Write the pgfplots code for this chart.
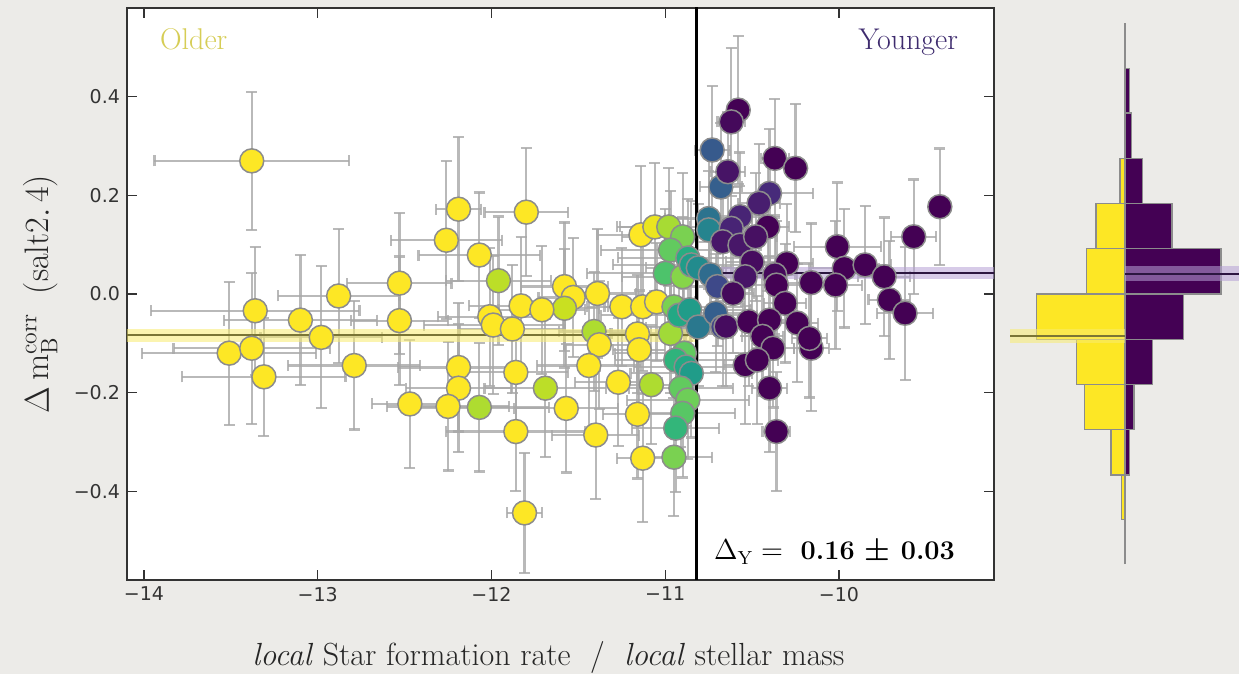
\documentclass[border=0pt]{standalone}
\usepackage{fontspec}
\usepackage{pgfplots}
\pgfplotsset{compat=1.18}
\usepackage{pgfplotstable}
\newfontfamily\tickfont{DejaVu Sans}
\definecolor{bgpaper}{HTML}{ECEBE8}
\definecolor{olderc}{HTML}{D6CD55}
\definecolor{youngerc}{HTML}{3E2B6E}
\definecolor{vyellow}{HTML}{FDE725}
\definecolor{vpurple}{HTML}{440154}
\definecolor{ybandc}{HTML}{F8EC70}
\definecolor{ylinec}{HTML}{7A7535}
\definecolor{pbandc}{HTML}{B7A2D6}
\definecolor{plinec}{HTML}{2C1640}
\definecolor{ebarc}{HTML}{A8A8A8}

\pgfplotstableread{
x y ex ey c
-13.38 0.270 0.56 0.14 1
-13.36 -0.034 0.60 0.13 1
-13.51 -0.120 0.50 0.145 1
-13.38 -0.110 0.45 0.153 1
-13.31 -0.168 0.47 0.12 1
-13.10 -0.053 0.44 0.132 1
-12.98 -0.088 0.35 0.144 1
-12.88 -0.004 0.35 0.136 1
-12.79 -0.145 0.38 0.13 1
-12.53 0.022 0.30 0.143 1
-12.53 -0.054 0.28 0.13 1
-12.47 -0.223 0.22 0.13 1
-12.19 0.172 0.13 0.146 1
-11.80 0.166 0.24 0.13 1
-12.26 0.109 0.32 0.16 1
-12.07 0.079 0.35 0.127 1
-11.96 0.027 0.30 0.13 0.9
-11.58 0.015 0.25 0.13 1
-11.53 -0.007 0.20 0.12 1
-11.58 -0.029 0.20 0.12 0.92
-11.39 0.001 0.22 0.13 1
-11.83 -0.024 0.30 0.14 1
-11.71 -0.032 0.25 0.13 1
-12.01 -0.046 0.30 0.14 1
-11.99 -0.063 0.40 0.14 1
-11.88 -0.071 0.30 0.13 1
-11.41 -0.076 0.20 0.12 0.88
-11.38 -0.103 0.20 0.13 1
-11.25 -0.026 0.20 0.12 1
-11.13 -0.026 0.20 0.13 1
-11.05 -0.016 0.22 0.12 1
-11.16 -0.081 0.15 0.12 1
-11.15 -0.113 0.15 0.12 1
-11.14 0.120 0.25 0.14 1
-11.06 0.136 0.20 0.13 0.97
-11.13 -0.333 0.15 0.13 1
-11.16 -0.244 0.20 0.13 1
-11.08 -0.184 0.15 0.12 0.88
-11.27 -0.179 0.25 0.13 1
-11.44 -0.145 0.30 0.14 1
-11.40 -0.286 0.25 0.13 1
-11.57 -0.232 0.30 0.13 1
-11.69 -0.191 0.35 0.14 0.9
-11.86 -0.159 0.30 0.13 1
-11.86 -0.279 0.40 0.12 1
-12.19 -0.149 0.35 0.13 1
-12.19 -0.191 0.30 0.13 1
-12.25 -0.228 0.35 0.13 1
-12.07 -0.230 0.40 0.13 0.88
-11.81 -0.444 0.10 0.122 1
-10.98 0.136 0.30 0.12 0.87
-10.90 0.116 0.35 0.13 0.80
-10.97 0.089 0.40 0.12 0.76
-11.00 0.042 0.45 0.13 0.72
-10.90 0.035 0.35 0.12 0.82
-10.87 0.073 0.40 0.12 0.62
-10.85 0.059 0.45 0.13 0.55
-10.97 -0.080 0.35 0.12 0.86
-10.95 -0.026 0.40 0.12 0.80
-10.92 -0.043 0.45 0.13 0.60
-10.86 -0.032 0.35 0.12 0.55
-10.89 -0.120 0.40 0.13 0.76
-10.94 -0.134 0.35 0.12 0.65
-10.88 -0.148 0.30 0.12 0.60
-10.85 -0.161 0.35 0.13 0.55
-10.91 -0.191 0.30 0.12 0.76
-10.87 -0.215 0.35 0.12 0.78
-10.90 -0.242 0.30 0.13 0.74
-10.94 -0.272 0.25 0.13 0.66
-10.95 -0.331 0.22 0.12 0.80
-10.81 0.053 0.30 0.13 0.48
-10.75 0.153 0.25 0.13 0.38
-10.75 0.130 0.30 0.12 0.45
-10.74 0.039 0.30 0.12 0.35
-10.81 -0.067 0.30 0.12 0.40
-10.71 -0.039 0.20 0.12 0.30
-10.67 -0.067 0.20 0.12 0.20
-10.73 0.292 0.10 0.13 0.28
-10.68 0.217 0.12 0.13 0.30
-10.70 0.015 0.20 0.12 0.22
-10.58 0.373 0.06 0.15 0.0
-10.62 0.349 0.08 0.15 0.02
-10.37 0.275 0.08 0.12 0.0
-10.25 0.255 0.06 0.13 0.0
-10.64 0.248 0.10 0.12 0.05
-10.40 0.204 0.25 0.13 0.12
-10.46 0.184 0.12 0.12 0.08
-10.57 0.157 0.15 0.13 0.10
-10.62 0.133 0.15 0.12 0.10
-10.41 0.136 0.12 0.13 0.0
-10.67 0.106 0.15 0.12 0.06
-10.57 0.099 0.12 0.12 0.06
-10.48 0.116 0.12 0.13 0.04
-10.50 0.065 0.15 0.12 0.03
-10.54 0.035 0.15 0.12 0.05
-10.30 0.062 0.15 0.12 0.0
-10.37 0.039 0.12 0.12 0.02
-10.61 0.001 0.12 0.12 0.02
-10.36 0.018 0.15 0.13 0.0
-10.31 -0.019 0.12 0.12 0.0
-10.16 0.023 0.15 0.12 0.0
-10.01 0.096 0.25 0.13 0.0
-9.97 0.052 0.20 0.12 0.0
-10.02 0.018 0.15 0.13 0.0
-9.85 0.059 0.15 0.12 0.0
-9.74 0.035 0.15 0.12 0.0
-9.71 -0.012 0.12 0.12 0.0
-9.62 -0.039 0.16 0.135 0.0
-9.57 0.116 0.13 0.116 0.0
-9.42 0.177 0.05 0.118 0.0
-10.65 -0.066 0.12 0.12 0.03
-10.52 -0.056 0.12 0.13 0.0
-10.40 -0.053 0.15 0.13 0.0
-10.24 -0.059 0.12 0.12 0.0
-10.44 -0.086 0.12 0.12 0.0
-10.38 -0.110 0.12 0.12 0.0
-10.16 -0.110 0.10 0.128 0.0
-10.17 -0.090 0.10 0.12 0.0
-10.54 -0.144 0.12 0.12 0.0
-10.47 -0.134 0.12 0.13 0.0
-10.40 -0.191 0.10 0.13 0.0
-10.36 -0.279 0.08 0.12 0.0
}\sndata

\begin{document}
\begin{tikzpicture}
\path[use as bounding box] (0,0) rectangle (619.5pt,337pt);
\fill[bgpaper] (0,0) rectangle (619.5pt,337pt);
\begin{axis}[
  at={(63.5pt,47pt)}, anchor=south west,
  scale only axis, width=433.5pt, height=286pt,
  xmin=-14.098, xmax=-9.108, ymin=-0.58, ymax=0.58,
  axis background/.style={fill=white},
  axis line style={black!80, line width=1pt},
  tick align=inside, tick pos=both, xticklabel pos=lower, yticklabel pos=left,
  major tick length=5pt,
  tick style={black!80, line width=0.7pt},
  xtick={-14,-13,-12,-11,-10}, xticklabels={−14,−13,−12,−11,−10},
  ytick={-0.4,-0.2,0,0.2,0.4}, yticklabels={−0.4,−0.2,0.0,0.2,0.4},
  ticklabel style={font=\tickfont\fontsize{9.5}{11}\selectfont, text=black!80},
  colormap/viridis, point meta min=0, point meta max=1,
  xlabel={\textit{local} Star formation rate~~/~~\textit{local} stellar mass},
  xlabel style={at={(axis description cs:0.486,-0.136)}, anchor=center, font=\fontsize{16}{19}\selectfont, text=black!85},
  ylabel={$\Delta\,\mathrm{m}_{\mathrm{B}}^{\mathrm{corr}}\;\;(\mathrm{salt2.\,4})$},
  ylabel style={at={(axis description cs:-0.10,0.5)}, anchor=center, font=\fontsize{17}{20}\selectfont, text=black!85},
]
\addplot[only marks, mark=*, mark size=0.5pt, mark options={draw=ebarc, fill=ebarc}, forget plot,
  error bars/.cd, x dir=both, x explicit, y dir=both, y explicit,
  error bar style={draw=ebarc, draw opacity=0.8, line width=1.1pt},
  error mark=-,
  error mark options={rotate=90, draw=ebarc, draw opacity=0.8, line width=1.1pt, mark size=2.75pt}]
  table[x=x, y=y, x error=ex, y error=ey] {\sndata};
% mean of older
\addplot[draw=none, fill=ybandc, fill opacity=0.55, forget plot] coordinates {(-14.2,-0.097) (-10.82,-0.097) (-10.82,-0.070) (-14.2,-0.070)} -- cycle;
\addplot[ylinec, line width=1pt, forget plot] coordinates {(-14.2,-0.084) (-10.82,-0.084)};
% mean of younger
\addplot[draw=none, fill=pbandc, fill opacity=0.55, forget plot] coordinates {(-10.82,0.030) (-9.0,0.030) (-9.0,0.055) (-10.82,0.055)} -- cycle;
\addplot[plinec, line width=1pt, forget plot] coordinates {(-10.82,0.042) (-9.0,0.042)};
% split
\addplot[black, line width=1.5pt, forget plot] coordinates {(-10.82,-0.6) (-10.82,0.6)};
\addplot[scatter, only marks, mark=*, mark size=6pt, scatter src=explicit,
  mark options={line width=0.75pt},
  scatter/use mapped color={draw=black!45, fill=mapped color}]
  table[x=x, y=y, meta=c] {\sndata};
\node[anchor=base west, text=olderc, font=\fontsize{15}{18}\selectfont] at (axis description cs:0.030,0.927) {Older};
\node[anchor=base east, text=youngerc, font=\fontsize{15}{18}\selectfont] at (axis description cs:0.9666,0.927) {Younger};
\node[anchor=base east, font=\fontsize{13.5}{16}\selectfont] at (axis description cs:0.963,0.035) {$\Delta_{\mathrm{Y}} =$\ \ \textbf{0.16 {\boldmath$\pm$} 0.03}};
\end{axis}
\begin{axis}[
  at={(500pt,47pt)}, anchor=south west,
  scale only axis, width=119.5pt, height=286pt,
  xmin=-125, xmax=114, ymin=-0.58, ymax=0.58,
  hide axis,
]
\addplot[xbar interval, fill=vyellow, draw=black!45, line width=0.6pt] coordinates {(-3.3,-0.458) (-14,-0.367) (-40.7,-0.275) (-48.3,-0.183) (-88.3,-0.092) (-38.3,0) (-29,0.092) (-5,0.183) (-5,0.275)};
\addplot[xbar interval, fill=vpurple, draw=black!45, line width=0.6pt] coordinates {(4.3,-0.367) (9,-0.275) (27.7,-0.183) (58.3,-0.092) (96,0) (47,0.092) (17.7,0.183) (6.7,0.275) (4.3,0.367) (4.3,0.458)};
\addplot[black!45, line width=0.8pt] coordinates {(0,-0.548) (0,0.549)};
\addplot[draw=none, fill=ybandc, fill opacity=0.55] coordinates {(-115,-0.099) (0,-0.099) (0,-0.071) (-115,-0.071)} -- cycle;
\addplot[ylinec, line width=1pt] coordinates {(-115,-0.085) (0,-0.085)};
\addplot[draw=none, fill=pbandc, fill opacity=0.55] coordinates {(0,0.027) (114,0.027) (114,0.056) (0,0.056)} -- cycle;
\addplot[plinec, line width=1pt] coordinates {(0,0.041) (114,0.041)};
\end{axis}
\end{tikzpicture}
\end{document}
